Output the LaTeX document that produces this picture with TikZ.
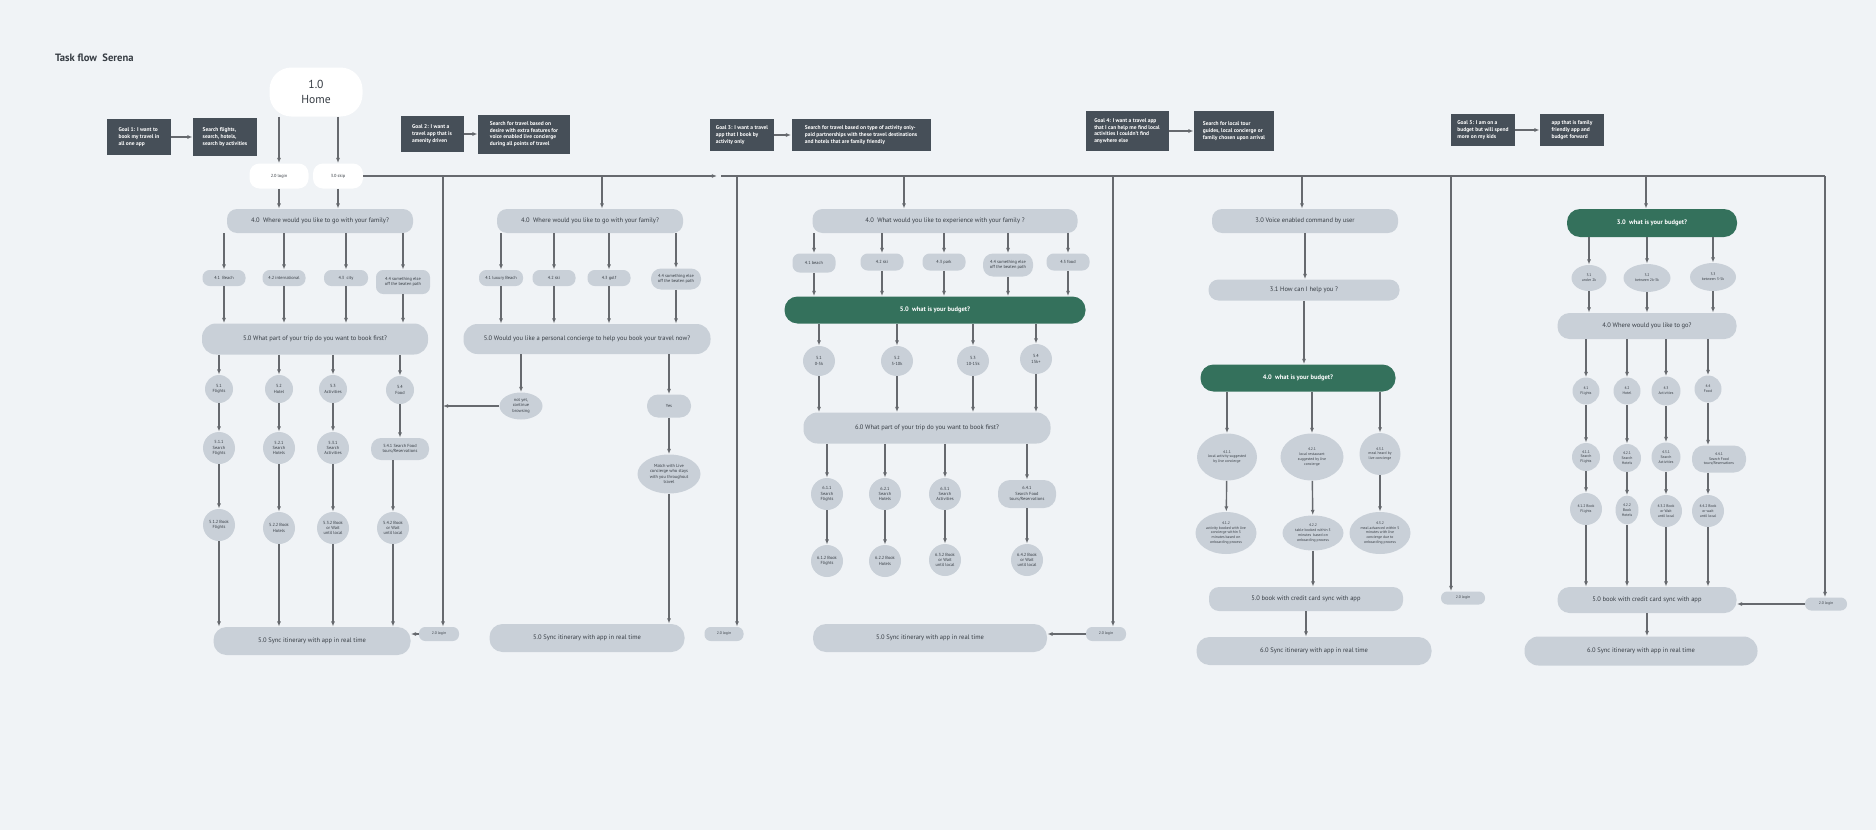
\documentclass[tikz,border=0pt]{standalone}
\usepackage{fontspec}
\setmainfont{PT Sans}
\usetikzlibrary{arrows.meta,shapes.geometric}

\definecolor{bgpage}{HTML}{F0F3F6}
\definecolor{nodegray}{HTML}{C9D0D8}
\definecolor{goaldark}{HTML}{464F58}
\definecolor{budgetgreen}{HTML}{34715C}
\definecolor{linegray}{HTML}{66696E}
\definecolor{txtgray}{HTML}{363C43}

\newcommand{\flowtitle}{\fontsize{5.3}{6.5}\selectfont\bfseries}
\newcommand{\flowhome}{\fontsize{5.8}{7.4}\selectfont}
\newcommand{\flowmid}{\fontsize{3.25}{3.9}\selectfont}
\newcommand{\flowgoal}{\fontsize{2.75}{3.35}\selectfont\bfseries}
\newcommand{\flowtiny}{\fontsize{2.2}{2.7}\selectfont}
\newcommand{\flowmicro}{\fontsize{1.9}{2.35}\selectfont}

\begin{document}
\begin{tikzpicture}[x=0.5pt,y=-0.5pt,
		line/.style={draw=linegray,line width=0.7pt},
		arr/.style={line,-{Latex[length=2.6pt,width=2pt]}},
		pill/.style={fill=nodegray,rounded corners=5pt,inner sep=0pt,align=center,text=txtgray,font=\flowmid},
		chip/.style={pill,rounded corners=3.6pt,font=\flowtiny},
		login/.style={chip,rounded corners=3.1pt,font=\flowmicro},
		bubble/.style={circle,fill=nodegray,inner sep=0pt,align=center,text=txtgray,font=\flowtiny},
		blob/.style={ellipse,fill=nodegray,inner sep=0pt,align=center,text=txtgray,font=\flowtiny},
		budget/.style={pill,fill=budgetgreen,text=white,font=\flowmid\bfseries},
		goal/.style={fill=goaldark,text=white,align=left,inner sep=0pt,font=\flowgoal},
		start/.style={fill=white,rounded corners=5pt,inner sep=0pt,align=center,text=txtgray,font=\flowtiny}]
				\useasboundingbox (0,0) rectangle (1876,830);
				\fill[bgpage] (0,0) rectangle (1876,830);
				
				\node[anchor=west,text=txtgray,font=\flowtitle] (title) at (48,58) {Task flow~~Serena};
				
				% goals
				\node[goal,minimum width=32pt,minimum height=18pt] (g1) at (139,137) {Goal 1: I want to\\book my travel in\\all one app};
				\node[goal,minimum width=32pt,minimum height=19pt] (s1) at (225,137) {Search flights,\\search, hotels,\\search by activities};
				\node[goal,minimum width=31.5pt,minimum height=18pt] (g2) at (432,134) {Goal 2: I want a\\travel app that is\\amenity driven};
				\node[goal,minimum width=46pt,minimum height=19.5pt] (s2) at (524,134) {Search for travel based on\\desire with extra features for\\voice enabled live concierge\\during all points of travel};
				\node[goal,minimum width=32pt,minimum height=16pt] (g3) at (742,135) {Goal 3: I want a travel\\app that I book by\\activity only};
				\node[goal,minimum width=69.5pt,minimum height=16pt] (s3) at (861,135) {Search for travel based on type of activity only-\\paid partnerships with these travel destinations\\and hotels that are family friendly};
				\node[goal,minimum width=41.5pt,minimum height=20pt] (g4) at (1127,131) {Goal 4: I want a travel app\\that I can help me find local\\activities I couldn't find\\anywhere else};
				\node[goal,minimum width=40pt,minimum height=20pt] (s4) at (1234,131) {Search for local tour\\guides, local concierge or\\family chosen upon arrival};
				\node[goal,minimum width=32pt,minimum height=16pt] (g5) at (1483,130) {Goal 5: I am on a\\budget but will spend\\more on my kids};
				\node[goal,minimum width=32pt,minimum height=16pt] (s5) at (1572,130) {app that is family\\friendly app and\\budget forward};
				
				\draw[arr] (g1) -- (s1);
				\draw[arr] (g2) -- (s2);
				\draw[arr] (g3) -- (s3);
				\draw[arr] (g4) -- (s4);
				\draw[arr] (g5) -- (s5);
				
				% start
				\node[start,rounded corners=11pt,minimum width=46.5pt,minimum height=24.5pt,font=\flowhome] (home) at (316,92) {1.0\\Home};
				\node[start,minimum width=29.5pt,minimum height=12.5pt] (login0) at (279,176) {2.0 login};
				\node[start,minimum width=25pt,minimum height=12.5pt] (skip) at (338,176) {3.0 skip};
				
				% column 1
				\node[pill,minimum width=93pt,minimum height=12pt] (c1q) at (320,221) {4.0~~Where would you like to go with your family?};
				\node[chip,minimum width=21.5pt,minimum height=8pt] (c1a) at (224,278) {4.1~~Beach};
				\node[chip,minimum width=21.5pt,minimum height=8pt] (c1b) at (284,278) {4.2 international};
				\node[chip,minimum width=22pt,minimum height=8pt] (c1c) at (346,278) {4.3~~city};
				\node[chip,minimum width=27pt,minimum height=12pt] (c1d) at (403,282) {4.4 something else\\off the beaten path};
				\node[pill,rounded corners=7pt,minimum width=113pt,minimum height=15.5pt] (c1p) at (315,339) {5.0 What part of your trip do you want to book first?};
				\node[bubble,minimum size=14pt] (c1f) at (219,389) {5.1\\Flights};
				\node[bubble,minimum size=14pt] (c1h) at (279,389) {5.2\\Hotel};
				\node[bubble,minimum size=14pt] (c1t) at (333,389) {5.3\\Activities};
				\node[bubble,minimum size=14pt] (c1o) at (400,390) {5.4\\Food};
				\node[bubble,minimum size=16pt] (c1fs) at (219,448) {5.1.1\\Search\\Flights};
				\node[bubble,minimum size=16pt] (c1hs) at (279,448) {5.2.1\\Search\\Hotels};
				\node[bubble,minimum size=16pt] (c1ts) at (333,448) {5.3.1\\Search\\Activities};
				\node[chip,rounded corners=5pt,minimum width=29pt,minimum height=11pt] (c1os) at (400,449) {5.4.1 Search Food\\tours/Reservations};
				\node[bubble,minimum size=16pt] (c1fb) at (219,525) {5.1.2 Book\\Flights};
				\node[bubble,minimum size=16pt] (c1hb) at (279,528) {5.2.2 Book\\Hotels};
				\node[bubble,minimum size=16pt] (c1tb) at (333,528) {5.3.2 Book\\or Wait\\until local};
				\node[bubble,minimum size=16pt] (c1ob) at (393,528) {5.4.2 Book\\or Wait\\until local};
				\node[pill,rounded corners=6.5pt,minimum width=98.5pt,minimum height=14pt] (c1s) at (312,641) {5.0 Sync itinerary with app in real time};
				\node[login,minimum width=20pt,minimum height=7pt] (l1) at (439,634) {2.0 login};
				
				\draw[arr] (home.south -| login0) -- (login0);
				\draw[arr] (home.south -| skip) -- (skip);
				\draw[arr] (login0) -- (login0 |- c1q.north);
				\draw[arr] (skip) -- (skip |- c1q.north);
				\draw[arr] (c1q.south -| c1a) -- (c1a);
				\draw[arr] (c1q.south -| c1b) -- (c1b);
				\draw[arr] (c1q.south -| c1c) -- (c1c);
				\draw[arr] (c1q.south -| c1d) -- (c1d);
				\draw[arr] (c1a) -- (c1a |- c1p.north);
				\draw[arr] (c1b) -- (c1b |- c1p.north);
				\draw[arr] (c1c) -- (c1c |- c1p.north);
				\draw[arr] (c1d) -- (c1d |- c1p.north);
				\draw[arr] (c1p.south -| c1f) -- (c1f);
				\draw[arr] (c1p.south -| c1h) -- (c1h);
				\draw[arr] (c1p.south -| c1t) -- (c1t);
				\draw[arr] (c1p.south -| c1o) -- (c1o);
				\draw[arr] (c1f) -- (c1fs);
				\draw[arr] (c1h) -- (c1hs);
				\draw[arr] (c1t) -- (c1ts);
				\draw[arr] (c1o) -- (c1o |- c1os.north);
				\draw[arr] (c1fs) -- (c1fb);
				\draw[arr] (c1hs) -- (c1hb);
				\draw[arr] (c1ts) -- (c1tb);
				\draw[arr] (c1os.south -| c1ob) -- (c1ob);
				\draw[arr] (c1fb) -- (c1fb |- c1s.north);
				\draw[arr] (c1hb) -- (c1hb |- c1s.north);
				\draw[arr] (c1tb) -- (c1tb |- c1s.north);
				\draw[arr] (c1ob) -- (c1ob |- c1s.north);
				\draw[arr] (l1) -- (l1 -| c1s.east);
				
				% column 2
				\node[pill,minimum width=93pt,minimum height=12pt] (c2q) at (590,221) {4.0~~Where would you like to go with your family?};
				\node[chip,minimum width=22pt,minimum height=8pt] (c2a) at (501,278) {4.1 luxury Beach};
				\node[chip,minimum width=21.5pt,minimum height=8pt] (c2b) at (554,278) {4.2 ski};
				\node[chip,minimum width=21.5pt,minimum height=8pt] (c2c) at (609,278) {4.3 golf};
				\node[chip,rounded corners=5pt,minimum width=25pt,minimum height=10.5pt] (c2d) at (676,279) {4.4 something else\\off the beaten path};
				\node[pill,rounded corners=7pt,minimum width=123.5pt,minimum height=15pt] (c2p) at (587,339) {5.0 Would you like a personal concierge to help you book your travel now?};
				\node[blob,minimum width=21.5pt,minimum height=13.5pt] (c2n) at (521,406) {not yet,\\continue\\browsing};
				\node[chip,rounded corners=5.5pt,minimum width=22pt,minimum height=11.5pt] (c2y) at (669,406) {Yes};
				\node[blob,minimum width=31.5pt,minimum height=19.5pt] (c2m) at (669,474) {Match with Live\\concierge who stays\\with you throughout\\travel};
				\node[pill,rounded corners=6.5pt,minimum width=97.5pt,minimum height=14pt] (c2s) at (587,638) {5.0 Sync itinerary with app in real time};
				\node[login,minimum width=19.5pt,minimum height=7pt] (l2) at (724,634) {2.0 login};
				
				\draw[arr] (c2q.south -| c2a) -- (c2a);
				\draw[arr] (c2q.south -| c2b) -- (c2b);
				\draw[arr] (c2q.south -| c2c) -- (c2c);
				\draw[arr] (c2q.south -| c2d) -- (c2d);
				\draw[arr] (c2a) -- (c2a |- c2p.north);
				\draw[arr] (c2b) -- (c2b |- c2p.north);
				\draw[arr] (c2c) -- (c2c |- c2p.north);
				\draw[arr] (c2d) -- (c2d |- c2p.north);
				\draw[arr] (c2p.south -| c2n) -- (c2n);
				\draw[arr] (c2p.south -| c2y) -- (c2y);
				\draw[arr] (c2y) -- (c2m);
				\draw[arr] (c2m) -- (c2m |- c2s.north);
				
				% column 3
				\node[pill,minimum width=132.5pt,minimum height=12pt] (c3q) at (945,221) {4.0~~What would you like to experience with your family ?};
				\node[chip,minimum width=21.5pt,minimum height=9.5pt] (c3a) at (814,263) {4.1 beach};
				\node[chip,minimum width=21.5pt,minimum height=8.5pt] (c3b) at (882,262) {4.2 ski};
				\node[chip,minimum width=21.5pt,minimum height=8.5pt] (c3c) at (944,262) {4.3 park};
				\node[chip,rounded corners=5pt,minimum width=25pt,minimum height=11.5pt] (c3d) at (1008,265) {4.4 something else\\off the beaten path};
				\node[chip,minimum width=21.5pt,minimum height=8.5pt] (c3e) at (1068,262) {4.5 food};
				\node[budget,rounded corners=6.5pt,minimum width=150.5pt,minimum height=13.5pt] (c3g) at (935,310) {5.0~~what is your budget?};
				\node[blob,minimum width=16pt,minimum height=15pt] (c3k1) at (819,361) {5.1\\0-5k};
				\node[blob,minimum width=16pt,minimum height=15pt] (c3k2) at (897,361) {5.2\\5-10k};
				\node[blob,minimum width=16pt,minimum height=15pt] (c3k3) at (973,361) {5.3\\10-15k};
				\node[blob,minimum width=16pt,minimum height=15pt] (c3k4) at (1036,359) {5.4\\15k+};
				\node[pill,rounded corners=7pt,minimum width=123.5pt,minimum height=15.5pt] (c3p) at (927,428) {6.0 What part of your trip do you want to book first?};
				\node[bubble,minimum size=16pt] (c3fs) at (827,494) {6.1.1\\Search\\Flights};
				\node[bubble,minimum size=16pt] (c3hs) at (885,494) {6.2.1\\Search\\Hotels};
				\node[bubble,minimum size=16pt] (c3ts) at (945,494) {6.3.1\\Search\\Activities};
				\node[chip,rounded corners=6pt,minimum width=29pt,minimum height=14pt] (c3os) at (1027,494) {6.4.1\\Search Food\\tours/Reservations};
				\node[bubble,minimum size=16pt] (c3fb) at (827,561) {6.1.2 Book\\Flights};
				\node[bubble,minimum size=16pt] (c3hb) at (885,561) {6.2.2 Book\\Hotels};
				\node[bubble,minimum size=16pt] (c3tb) at (945,560) {6.3.2 Book\\or Wait\\until local};
				\node[bubble,minimum size=16pt] (c3ob) at (1027,560) {6.4.2 Book\\or Wait\\until local};
				\node[pill,rounded corners=6.5pt,minimum width=117pt,minimum height=14pt] (c3s) at (930,638) {5.0 Sync itinerary with app in real time};
				\node[login,minimum width=20pt,minimum height=7pt] (l3) at (1106,634) {2.0 login};
				
				\draw[arr] (c3q.south -| c3a) -- (c3a);
				\draw[arr] (c3q.south -| c3b) -- (c3b);
				\draw[arr] (c3q.south -| c3c) -- (c3c);
				\draw[arr] (c3q.south -| c3d) -- (c3d);
				\draw[arr] (c3q.south -| c3e) -- (c3e);
				\draw[arr] (c3a) -- (c3a |- c3g.north);
				\draw[arr] (c3b) -- (c3b |- c3g.north);
				\draw[arr] (c3c) -- (c3c |- c3g.north);
				\draw[arr] (c3d) -- (c3d |- c3g.north);
				\draw[arr] (c3e) -- (c3e |- c3g.north);
				\draw[arr] (c3g.south -| c3k1) -- (c3k1);
				\draw[arr] (c3g.south -| c3k2) -- (c3k2);
				\draw[arr] (c3g.south -| c3k3) -- (c3k3);
				\draw[arr] (c3g.south -| c3k4) -- (c3k4);
				\draw[arr] (c3k1) -- (c3k1 |- c3p.north);
				\draw[arr] (c3k2) -- (c3k2 |- c3p.north);
				\draw[arr] (c3k3) -- (c3k3 |- c3p.north);
				\draw[arr] (c3k4) -- (c3k4 |- c3p.north);
				\draw[arr] (c3p.south -| c3fs) -- (c3fs);
				\draw[arr] (c3p.south -| c3hs) -- (c3hs);
				\draw[arr] (c3p.south -| c3ts) -- (c3ts);
				\draw[arr] (c3p.south -| c3os) -- (c3os);
				\draw[arr] (c3fs) -- (c3fb);
				\draw[arr] (c3hs) -- (c3hb);
				\draw[arr] (c3ts) -- (c3tb);
				\draw[arr] (c3os) -- (c3ob);
				\draw[arr] (l3) -- (l3 -| c3s.east);
				
				% column 4
				\node[pill,minimum width=93pt,minimum height=12pt] (c4q) at (1305,221) {3.0 Voice enabled command by user};
				\node[pill,minimum width=95.5pt,minimum height=10.5pt] (c4h) at (1304,290) {3.1 How can I help you ?};
				\node[budget,rounded corners=6.5pt,minimum width=97.5pt,minimum height=13.5pt] (c4g) at (1298,378) {4.0~~what is your budget?};
				\node[blob,font=\flowmicro,minimum width=30pt,minimum height=23.5pt] (c4a1) at (1227,457) {4.1.1\\local activity suggested\\by live concierge};
				\node[blob,font=\flowmicro,minimum width=31.5pt,minimum height=23.5pt] (c4b1) at (1312,457) {4.2.1\\local restaurant\\suggested by live\\concierge};
				\node[blob,font=\flowmicro,minimum width=20.5pt,minimum height=21pt] (c4c1) at (1380,454) {4.3.1\\meal heard by\\live concierge};
				\node[blob,font=\flowmicro,minimum width=30.5pt,minimum height=21pt] (c4a2) at (1226,533) {4.1.2\\activity booked with live\\concierge within 5\\minutes based on\\onboarding process};
				\node[blob,font=\flowmicro,minimum width=30.5pt,minimum height=17.5pt] (c4b2) at (1313,533) {4.2.2\\table booked within 5\\minutes~~based on\\onboarding process};
				\node[blob,font=\flowmicro,minimum width=30.5pt,minimum height=21pt] (c4c2) at (1380,533) {4.3.2\\meal advanced within 5\\minutes with live\\concierge due to\\onboarding process};
				\node[pill,minimum width=97pt,minimum height=12pt] (c4b) at (1306,599) {5.0 book with credit card sync with app};
				\node[pill,rounded corners=6.5pt,minimum width=117.5pt,minimum height=14pt] (c4s) at (1314,651) {6.0 Sync itinerary with app in real time};
				\node[login,minimum width=22pt,minimum height=6.5pt] (l4) at (1463,598) {2.0 login};
				
				\draw[arr] (c4q) -- (c4q |- c4h.north);
				\draw[arr] (c4h) -- (c4h |- c4g.north);
				\draw[arr] (c4g.south -| c4a1) -- (c4a1);
				\draw[arr] (c4g.south -| c4b1) -- (c4b1);
				\draw[arr] (c4g.south -| c4c1) -- (c4c1);
				\draw[arr] (c4a1) -- (c4a2);
				\draw[arr] (c4b1) -- (c4b2);
				\draw[arr] (c4c1) -- (c4c2);
				\draw[arr] (c4b2) -- (c4b2 |- c4b.north);
				\draw[arr] (c4b) -- (c4b |- c4s.north);
				
				% column 5
				\node[budget,rounded corners=6.5pt,minimum width=85pt,minimum height=14pt] (c5g) at (1652,223) {3.0~~what is your budget?};
				\node[blob,font=\flowmicro,minimum width=17.5pt,minimum height=13pt] (c5k1) at (1589,278) {3.1\\under 2k};
				\node[blob,font=\flowmicro,minimum width=23.5pt,minimum height=14pt] (c5k2) at (1647,278) {3.2\\between 2k-3k};
				\node[blob,font=\flowmicro,minimum width=23pt,minimum height=14pt] (c5k3) at (1713,277) {3.3\\between 3-5k};
				\node[pill,rounded corners=6pt,minimum width=89.5pt,minimum height=13pt] (c5q) at (1647,326) {4.0 Where would you like to go?};
				\node[bubble,font=\flowmicro,minimum size=13.5pt] (c5f) at (1586,391) {4.1\\Flights};
				\node[bubble,font=\flowmicro,minimum size=13.5pt] (c5h) at (1627,391) {4.2\\Hotel};
				\node[bubble,font=\flowmicro,minimum size=14.5pt] (c5t) at (1666,391) {4.3\\Activities};
				\node[bubble,font=\flowmicro,minimum size=13.5pt] (c5o) at (1708,389) {4.4\\Food};
				\node[bubble,font=\flowmicro,minimum size=14pt] (c5fs) at (1586,457) {4.1.1\\Search\\Flights};
				\node[bubble,font=\flowmicro,minimum size=14pt] (c5hs) at (1627,458) {4.2.1\\Search\\Hotels};
				\node[bubble,font=\flowmicro,minimum size=14.5pt] (c5ts) at (1666,457) {4.3.1\\Search\\Activities};
				\node[chip,font=\flowmicro,rounded corners=6pt,minimum width=27pt,minimum height=13.5pt] (c5os) at (1719,459) {4.4.1\\Search Food\\tours/Reservations};
				\node[bubble,font=\flowmicro,minimum size=16pt] (c5fb) at (1586,509) {4.1.2 Book\\Flights};
				\node[blob,font=\flowmicro,minimum width=11.5pt,minimum height=14.5pt] (c5hb) at (1627,510) {4.2.2\\Book\\Hotels};
				\node[bubble,font=\flowmicro,minimum size=16pt] (c5tb) at (1666,511) {4.3.2 Book\\or Wait\\until local};
				\node[bubble,font=\flowmicro,minimum size=16pt] (c5ob) at (1708,511) {4.4.2 Book\\or wait\\until local};
				\node[pill,rounded corners=6pt,minimum width=89.5pt,minimum height=13pt] (c5b) at (1647,600) {5.0 book with credit card sync with app};
				\node[pill,rounded corners=7pt,minimum width=116.5pt,minimum height=14.5pt] (c5s) at (1641,651) {6.0 Sync itinerary with app in real time};
				\node[login,minimum width=21pt,minimum height=6.5pt] (l5) at (1826,604) {2.0 login};
				
				\draw[arr] (c5g.south -| c5k1) -- (c5k1);
				\draw[arr] (c5g.south -| c5k2) -- (c5k2);
				\draw[arr] (c5g.south -| c5k3) -- (c5k3);
				\draw[arr] (c5k1) -- (c5k1 |- c5q.north);
				\draw[arr] (c5k2) -- (c5k2 |- c5q.north);
				\draw[arr] (c5k3) -- (c5k3 |- c5q.north);
				\draw[arr] (c5q.south -| c5f) -- (c5f);
				\draw[arr] (c5q.south -| c5h) -- (c5h);
				\draw[arr] (c5q.south -| c5t) -- (c5t);
				\draw[arr] (c5q.south -| c5o) -- (c5o);
				\draw[arr] (c5f) -- (c5fs);
				\draw[arr] (c5h) -- (c5hs);
				\draw[arr] (c5t) -- (c5ts);
				\draw[arr] (c5o) -- (c5o |- c5os.north);
				\draw[arr] (c5fs) -- (c5fb);
				\draw[arr] (c5hs) -- (c5hb);
				\draw[arr] (c5ts) -- (c5tb);
				\draw[arr] (c5os.south -| c5ob) -- (c5ob);
				\draw[arr] (c5fb) -- (c5fb |- c5b.north);
				\draw[arr] (c5hb) -- (c5hb |- c5b.north);
				\draw[arr] (c5tb) -- (c5tb |- c5b.north);
				\draw[arr] (c5ob) -- (c5ob |- c5b.north);
				\draw[arr] (c5b) -- (c5b |- c5s.north);
				\draw[arr] (l5) -- (l5 -| c5b.east);
				
				% skip line and its branches
				\coordinate (tarrow) at (717,176);
				\coordinate (tstart) at (721,176);
				\coordinate (tend) at (1825,176);
				\coordinate (b1) at (443,176);%login col 1
				\coordinate (b2) at (602,176);%col 2
				\coordinate (b3) at (737,176);%login col 2
				\coordinate (b4) at (904,176);%col 3
				\coordinate (b5) at (1113,176);%login col 3
				\coordinate (b6) at (1302,176);%col 4
				\coordinate (b7) at (1451,176);%login col 4
				\coordinate (b8) at (1646,176);%col 5
				
				\draw[arr] (skip) -- (tarrow);
				\draw[line] (tstart) -- (tend);
				\draw[arr] (b1) -- (b1 |- l1.north);
				\draw[arr] (b2) -- (b2 |- c2q.north);
				\draw[arr] (b3) -- (b3 |- l2.north);
				\draw[arr] (b4) -- (b4 |- c3q.north);
				\draw[arr] (b5) -- (b5 |- l3.north);
				\draw[arr] (b6) -- (b6 |- c4q.north);
				\draw[arr] (b7) -- (b7 |- l4.north);
				\draw[arr] (b8) -- (b8 |- c5g.north);
				\draw[arr] (tend) -- (tend |- l5.north);
				\draw[arr] (c2n) -- (c2n -| b1);
			\end{tikzpicture}
\end{document}
